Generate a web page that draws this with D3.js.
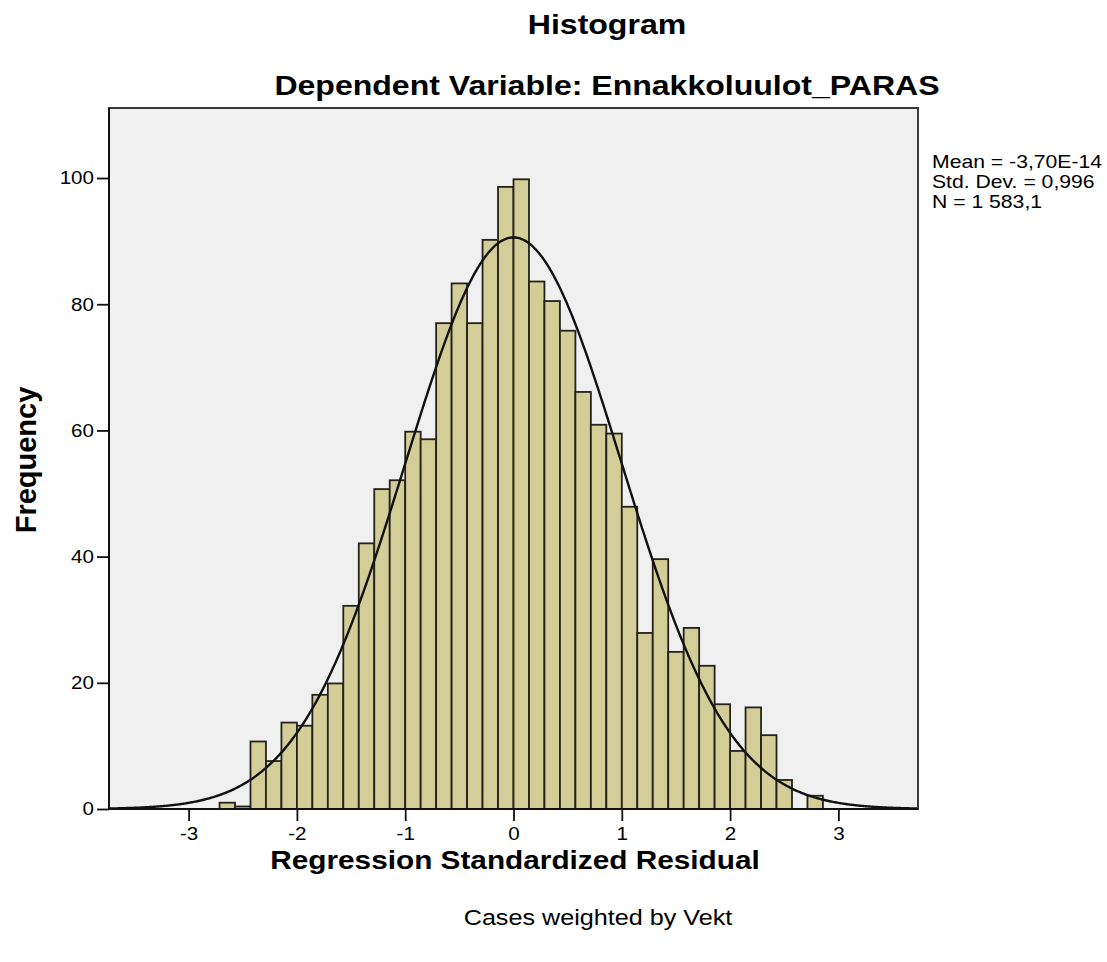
<!DOCTYPE html>
<html>
<head>
<meta charset="utf-8">
<script src="https://cdn.jsdelivr.net/npm/d3@7"></script>
<style>
  body { margin: 0; background: #fff; }
  text { font-family: "Liberation Sans", Arial, sans-serif; fill: #000; }
</style>
</head>
<body>
<div id="chart"></div>
<script>
// frequencies per bin (bins are 1/7 wide, first one starts at -19/7)
const counts = [1.0, 0.4, 10.7, 7.6, 13.7, 13.2, 18.1, 19.9, 32.2, 42.1,
                50.7, 52.1, 59.8, 58.6, 77.0, 83.3, 77.0, 90.2, 98.6, 99.8,
                83.6, 80.5, 75.8, 66.1, 60.9, 59.5, 47.9, 27.9, 39.6, 24.9,
                28.7, 22.7, 16.6, 9.2, 16.1, 11.7, 4.6, 0, 2.1];
const binWidth = 1 / 7;
const firstEdge = -19 / 7;
const xTicks = [-3, -2, -1, 0, 1, 2, 3];
const yTicks = [0, 20, 40, 60, 80, 100];
const statMean = -3.70e-14;
const statSd = 0.996;
const statN = 1583.1;
const statLabels = ["Mean = -3,70E-14", "Std. Dev. = 0,996", "N = 1 583,1"];

const W = 1107, H = 962;
const sx = 1.145; // text in the picture is a bit wider than normal
const plot = { left: 109, right: 918, top: 108, bottom: 809 };

const svg = d3.select("#chart").append("svg")
  .attr("width", W)
  .attr("height", H);

const x = d3.scaleLinear().domain([-3.735, 3.735]).range([plot.left, plot.right]);
const y = d3.scaleLinear().domain([0, 111.1]).range([plot.bottom, plot.top]);

// plot background
svg.append("rect")
  .attr("x", plot.left).attr("y", plot.top)
  .attr("width", plot.right - plot.left).attr("height", plot.bottom - plot.top)
  .attr("fill", "#f0f0f0");

// bars
svg.append("g")
  .selectAll("rect")
  .data(counts)
  .enter()
  .append("rect")
    .attr("x", (d, i) => x(firstEdge + i * binWidth))
    .attr("width", x(binWidth) - x(0))
    .attr("y", d => y(d))
    .attr("height", d => y(0) - y(d))
    .attr("fill", "#d3ce97")
    .attr("stroke", "#24221a")
    .attr("stroke-width", 1.8)
    .style("display", d => d > 0 ? null : "none");

// normal curve from the stats
svg.append("clipPath").attr("id", "clip")
  .append("rect")
  .attr("x", plot.left).attr("y", plot.top)
  .attr("width", plot.right - plot.left).attr("height", plot.bottom - plot.top);

const scaleN = statN * binWidth / (statSd * Math.sqrt(2 * Math.PI));
const curvePts = d3.range(-3.74, 3.745, 0.01).map(v => [v, scaleN * Math.exp(-0.5 * Math.pow((v - statMean) / statSd, 2))]);
svg.append("path")
  .datum(curvePts)
  .attr("clip-path", "url(#clip)")
  .attr("fill", "none")
  .attr("stroke", "#111")
  .attr("stroke-width", 2.4)
  .attr("d", d3.line().x(d => x(d[0])).y(d => y(d[1])));

// frame
svg.append("rect")
  .attr("x", plot.left).attr("y", plot.top)
  .attr("width", plot.right - plot.left).attr("height", plot.bottom - plot.top)
  .attr("fill", "none")
  .attr("stroke", "#3a3a3a")
  .attr("stroke-width", 2);

// axes
const yAxis = svg.append("g")
  .attr("transform", "translate(" + plot.left + ",0)")
  .call(d3.axisLeft(y).tickValues(yTicks).tickSize(12).tickPadding(3).tickFormat(d => String(d)));
const xAxis = svg.append("g")
  .attr("transform", "translate(0," + plot.bottom + ")")
  .call(d3.axisBottom(x).tickValues(xTicks).tickSize(12).tickPadding(6).tickFormat(d => String(d)));

[yAxis, xAxis].forEach(a => {
  a.select(".domain").remove();
  a.selectAll("line").attr("stroke", "#111").attr("stroke-width", 1.8);
  a.selectAll("text")
    .attr("font-size", 18)
    .attr("font-family", "'Liberation Sans', Arial, sans-serif")
    .attr("fill", "#111")
    .attr("transform", "scale(" + sx + ",1)");
});
yAxis.selectAll("text").attr("x", -15 / sx);
svg.append("line")
  .attr("x1", plot.left).attr("x2", plot.left)
  .attr("y1", plot.top).attr("y2", plot.bottom)
  .attr("stroke", "#111").attr("stroke-width", 2);
svg.append("line")
  .attr("x1", plot.left).attr("x2", plot.right)
  .attr("y1", plot.bottom).attr("y2", plot.bottom)
  .attr("stroke", "#111").attr("stroke-width", 2);

// texts
function label(txt, px, py, size, weight, anchor) {
  svg.append("text")
    .attr("transform", "translate(" + px + "," + py + ") scale(" + sx + ",1)")
    .attr("text-anchor", anchor || "middle")
    .attr("font-size", size)
    .attr("font-weight", weight || "normal")
    .text(txt);
}
label("Histogram", 607, 34, 28, "bold");
label("Dependent Variable: Ennakkoluulot_PARAS", 607, 95, 28, "bold");
label("Regression Standardized Residual", 515, 869, 26, "bold");
label("Cases weighted by Vekt", 598, 925, 22, "normal");

svg.append("text")
  .attr("transform", "translate(36,460) rotate(-90)")
  .attr("text-anchor", "middle")
  .attr("font-size", 29)
  .attr("font-weight", "bold")
  .text("Frequency");

statLabels.forEach((s, i) => label(s, 932, 168 + i * 20, 18.5, "normal", "start"));
</script>
</body>
</html>
